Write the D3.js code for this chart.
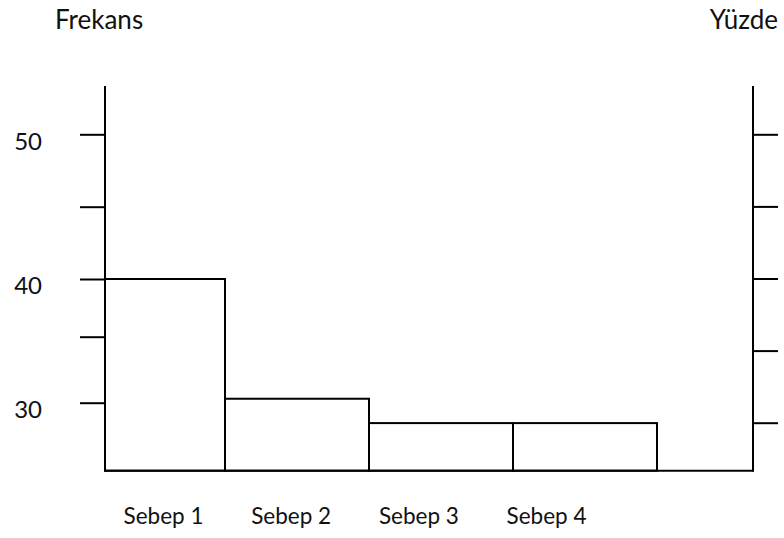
<!DOCTYPE html>
<meta charset="utf-8">
<script src="https://d3js.org/d3.v7.min.js"></script>
<style>body{margin:0;background:#fff}</style>

<div id="my_dataviz"></div>

<script>
	// data
	var causes = ["Sebep 1", "Sebep 2", "Sebep 3", "Sebep 4"]
	var frequency = [40, 30.3, 28.5, 28.5]
	var freqTicks = [30, 35, 40, 45, 50]
	var freqTickLabels = ["30", "", "40", "", "50"]
	var percentTicks = [20, 40, 60, 80, 100]
	var leftTitle = "Frekans"
	var rightTitle = "Yüzde"

	var width = 784, height = 538
	var plotLeft = 105, plotRight = 753
	var font = "Lato, 'Open Sans', sans-serif"

	var svg = d3.select("#my_dataviz")
	  .append("svg")
		.attr("width", width)
		.attr("height", height)
		.style("font-family", font)

	// the frequency axis is hand drawn, so the scale is piecewise
	var y = d3.scaleLinear()
		.domain([25, 30, 35, 40, 45, 50, 51.7])
		.range([470.7, 402.7, 336.7, 279, 206.7, 134.3, 86])

	var yPct = d3.scaleLinear()
		.domain([20, 100])
		.range([422.7, 134.3])

	// bands of equal width, first one is cut by the left axis
	var x = d3.scaleBand()
		.domain(causes)
		.range([81, 657])
		.padding(0)

	var xLabel = d3.scalePoint()
		.domain(causes)
		.range([163, 546])

	// bars
	svg.append("g")
	  .selectAll("rect")
	  .data(causes)
	  .enter().append("rect")
		.attr("x", function(d) { return Math.max(x(d), plotLeft) })
		.attr("width", function(d) { return x(d) + x.bandwidth() - Math.max(x(d), plotLeft) })
		.attr("y", function(d, i) { return y(frequency[i]) })
		.attr("height", function(d, i) { return y(25) - y(frequency[i]) })
		.attr("fill", "#fff")
		.attr("stroke", "#000")
		.attr("stroke-width", 2)

	// left axis
	var gl = svg.append("g")
		.attr("transform", "translate(" + plotLeft + ",0)")
		.call(d3.axisLeft(y)
			.tickValues(freqTicks)
			.tickSize(25)
			.tickFormat(function(d, i) { return freqTickLabels[i] }))
	gl.select(".domain").remove()
	gl.selectAll("line").attr("stroke", "#000").attr("stroke-width", 2)
	gl.selectAll("text")
		.attr("text-anchor", "end")
		.attr("x", -63)
		.attr("dy", "0.62em")
		.attr("fill", "#111")
		.style("font-family", font)
		.style("font-size", "24px")

	// right axis
	var gr = svg.append("g")
		.attr("transform", "translate(" + plotRight + ",0)")
		.call(d3.axisRight(yPct)
			.tickValues(percentTicks)
			.tickSize(25)
			.tickFormat(""))
	gr.select(".domain").remove()
	gr.selectAll("line").attr("stroke", "#000").attr("stroke-width", 2)

	// axis lines and baseline
	svg.append("line")
		.attr("x1", plotLeft).attr("x2", plotLeft)
		.attr("y1", y(51.7)).attr("y2", y(25) + 1)
		.attr("stroke", "#000").attr("stroke-width", 2)
	svg.append("line")
		.attr("x1", plotRight).attr("x2", plotRight)
		.attr("y1", y(51.7)).attr("y2", y(25) + 1)
		.attr("stroke", "#000").attr("stroke-width", 2)
	svg.append("line")
		.attr("x1", plotLeft).attr("x2", plotRight)
		.attr("y1", y(25)).attr("y2", y(25))
		.attr("stroke", "#000").attr("stroke-width", 2)

	// category labels
	var gx = svg.append("g")
		.attr("transform", "translate(0," + 523.5 + ")")
		.call(d3.axisBottom(xLabel).tickSize(0).tickPadding(0))
	gx.select(".domain").remove()
	gx.selectAll("text")
		.attr("dy", 0)
		.attr("fill", "#111")
		.style("font-family", font)
		.style("font-size", "22.5px")

	// titles
	svg.append("text")
		.attr("x", 55).attr("y", 29)
		.attr("fill", "#111")
		.style("font-size", "26px")
		.text(leftTitle)
	svg.append("text")
		.attr("x", 778).attr("y", 29)
		.attr("text-anchor", "end")
		.attr("fill", "#111")
		.style("font-size", "26px")
		.text(rightTitle)
</script>
